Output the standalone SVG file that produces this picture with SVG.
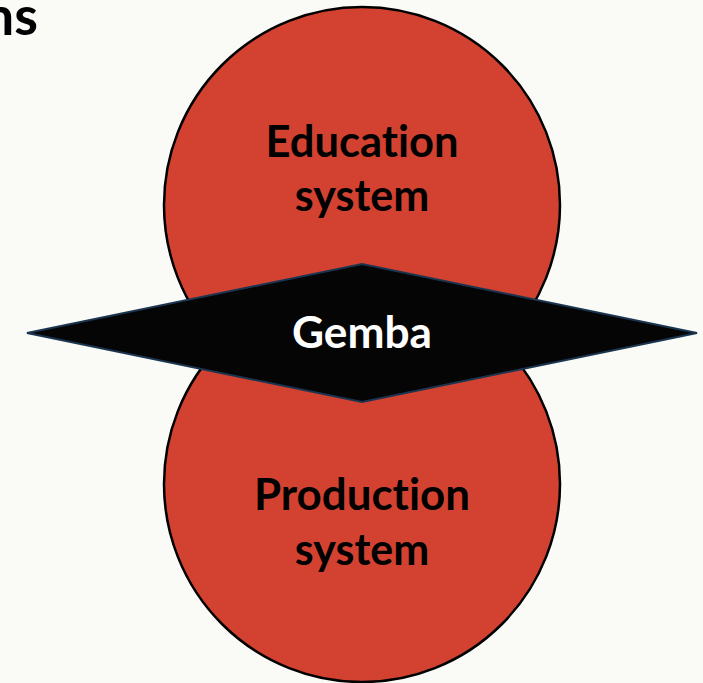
<svg xmlns="http://www.w3.org/2000/svg" width="703" height="683" viewBox="0 0 703 683">
  <style>
    .circle { fill: #D34230; stroke: #000000; stroke-width: 2.5; }
    .diamond { fill: #050505; stroke: #1B3550; stroke-width: 2; }
    .lbl { font-family: Lato, "Open Sans", "Liberation Sans", sans-serif; font-weight: bold; font-size: 43px; text-anchor: middle; fill: #000000; font-variant-ligatures: none; }
    .glbl { font-family: Lato, "Open Sans", "Liberation Sans", sans-serif; font-weight: bold; font-size: 43px; text-anchor: middle; fill: #FFFFFF; font-variant-ligatures: none; }
  </style>
  <rect x="0" y="0" width="703" height="683" fill="#FAFBF6"/>
  <text x="38" y="35" font-family="Lato, 'Open Sans', 'Liberation Sans', sans-serif" font-weight="bold" font-size="54" text-anchor="end" fill="#000000">ns</text>
  <g id="education">
    <circle class="circle" cx="362" cy="205" r="198"/>
    <text class="lbl" x="362" y="157" textLength="193" lengthAdjust="spacingAndGlyphs">Education</text>
    <text class="lbl" x="362" y="211">system</text>
  </g>
  <g id="production">
    <circle class="circle" cx="362" cy="484" r="198"/>
    <text class="lbl" x="362" y="510" textLength="216" lengthAdjust="spacingAndGlyphs">Production</text>
    <text class="lbl" x="362" y="565">system</text>
  </g>
  <g id="gemba">
    <polygon class="diamond" points="27,333 362,264 697,333 362,402"/>
    <text class="glbl" x="362" y="348" textLength="140" lengthAdjust="spacingAndGlyphs">Gemba</text>
  </g>
  <g id="connectors"></g>
</svg>
